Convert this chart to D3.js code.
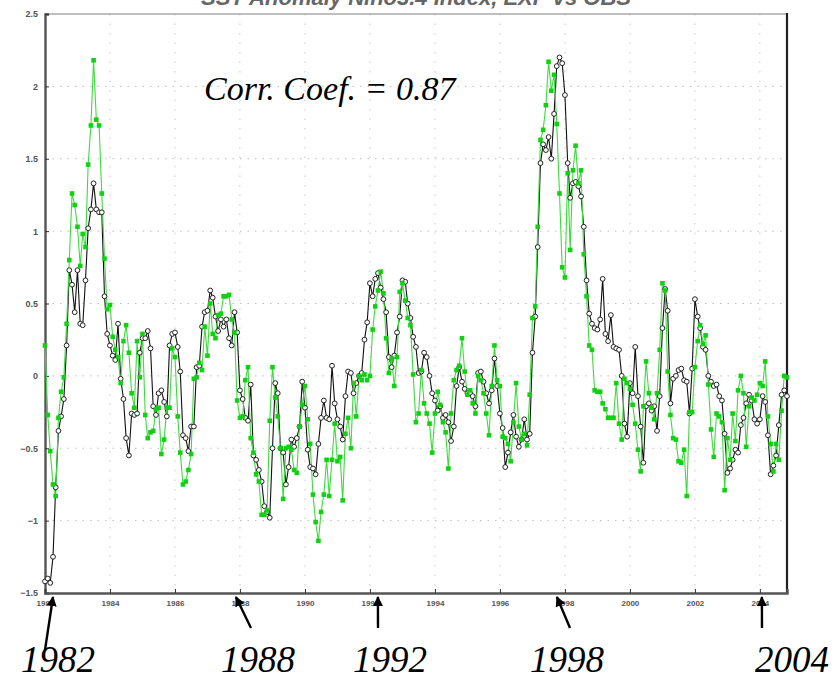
<!DOCTYPE html>
<html>
<head>
<meta charset="utf-8">
<script src="https://cdn.jsdelivr.net/npm/d3@7"></script>
<style>
  html, body { margin: 0; padding: 0; background: #fff; }
  svg { display: block; }
</style>
</head>
<body>
<svg id="chart" width="835" height="679"></svg>
<script>
// Monthly anomaly series, January 1982 onward
const observed = [
  -1.42, -1.40, -1.43, -1.25, -0.77, -0.38, -0.28, -0.16, 0.21, 0.73,
  0.63, 0.44, 0.73, 0.36, 0.35, 0.66, 1.02, 1.15, 1.33, 1.15,
  1.13, 1.13, 0.55, 0.29, 0.21, 0.14, 0.11, 0.36, -0.02, -0.16,
  -0.43, -0.55, -0.26, -0.27, -0.26, 0.16, 0.26, 0.26, 0.31, 0.19,
  -0.21, -0.27, -0.12, -0.10, -0.18, -0.28, 0.21, 0.29, 0.30, 0.20,
  0.03, -0.41, -0.43, -0.52, -0.35, -0.35, 0.06, 0.07, 0.34, 0.44,
  0.45, 0.59, 0.54, 0.41, 0.31, 0.39, 0.34, 0.39, 0.26, 0.21,
  0.44, 0.30, -0.10, -0.16, -0.29, -0.31, -0.06, -0.55, -0.58, -0.65,
  -0.73, -0.90, -0.94, -0.98, -0.50, -0.05, -0.12, -0.50, -0.53, -0.75,
  -0.63,
  -0.44, -0.49, -0.43, -0.35, -0.04, -0.22, -0.51, -0.63, -0.64, -0.68,
  -0.47, -0.29, -0.17, -0.29, -0.30, 0.07, -0.19, -0.30, -0.35, -0.44,
  -0.14, 0.03, 0.02, -0.12, -0.05, 0.00, 0.02, 0.25, 0.37, 0.64,
  0.55, 0.67, 0.71, 0.61, 0.53, 0.44, 0.13, 0.06, 0.14, 0.30,
  0.41, 0.66, 0.65, 0.50, 0.40, 0.27, 0.20, 0.02, 0.03, 0.16,
  0.13, 0.00, -0.12, -0.17, -0.24, -0.21, -0.29, -0.27, -0.32, -0.45,
  -0.35, -0.07, 0.06, -0.04, -0.09, -0.12, -0.12, -0.14, -0.21, 0.02,
  0.03, -0.04, -0.12, -0.19, -0.10, 0.12, -0.07, -0.26, -0.36, -0.63,
  -0.53, -0.39, -0.27, -0.42, -0.49, -0.44, -0.30, -0.44, -0.40, 0.16,
  0.41,
  0.89, 1.47, 1.60, 1.56, 1.65, 1.50, 1.81, 2.14, 2.20, 2.16,
  1.94, 1.47, 1.23, 1.33, 1.34, 1.31, 1.24, 1.03, 0.66, 0.43,
  0.36, 0.33, 0.32, 0.39, 0.67, 0.29, 0.24,
  0.42, 0.20, 0.19, 0.18, 0.00, -0.33, -0.42, -0.05, -0.12, 0.20,
  -0.14, -0.35, -0.60, -0.21, -0.19, -0.24, -0.21, -0.38, -0.14, 0.33,
  0.60, 0.45, -0.19, -0.02, 0.00, 0.04, 0.05, -0.03, -0.04, -0.26,
  0.05, 0.53, 0.41, 0.33, 0.20, 0.18, 0.00, -0.04, -0.07, -0.06,
  -0.14, -0.17, -0.40, -0.67, -0.64, -0.58, -0.51, -0.53, -0.34, -0.29,
  -0.19, -0.13, -0.17, -0.30, -0.33, -0.30, -0.14, -0.18, -0.41, -0.68,
  -0.62, -0.55, -0.34, -0.13, -0.10, -0.14
];

const simulated = [
  0.21, -0.27, -0.52, -0.75, -0.83, -0.29, -0.11, -0.01, 0.36, 0.80,
  1.26, 1.18, 1.03, 0.76, 0.98, 0.89, 1.46, 1.73, 2.18, 1.77,
  1.73, 1.26, 0.81, 0.46, 0.49, 0.27, 0.18, 0.13, -0.05, 0.24,
  0.35, 0.16, -0.12, -0.22, 0.24, -0.01, 0.29, -0.27, -0.43, -0.39,
  -0.38, -0.23, -0.22, -0.54, -0.44, -0.22, -0.22, 0.19, 0.13, -0.28,
  -0.53, -0.75, -0.73, -0.65, -0.54, -0.02, -0.01, 0.09, 0.04, 0.34,
  0.14, 0.50, 0.29, 0.26, 0.42, 0.43, 0.55, 0.55, 0.56, 0.39,
  0.30, -0.17, -0.29, -0.28, -0.03, 0.06, -0.43, -0.53, -0.68, -0.73,
  -0.96, -0.96, -0.93, -0.31, 0.06, -0.15, -0.28, -0.50, -0.85, -0.50,
  -0.49,
  -0.51, -0.65, -0.67, -0.35, -0.20, -0.07, -0.30, -0.47, -0.82, -1.01,
  -1.14, -0.94, -0.82, -0.58, -0.83, -0.58, -0.33, -0.59, -0.56, -0.86,
  -0.40, -0.29, -0.50, -0.05, -0.28, 0.00, -0.03, 0.01, -0.03, 0.00,
  0.32, 0.48, 0.59, 0.72, 0.57, 0.26, 0.02, 0.12, -0.07, 0.13,
  0.58, 0.64, 0.52, 0.40, 0.35, 0.01, -0.32, -0.26, 0.04, -0.19,
  -0.26, -0.33, -0.53, -0.26, -0.11, -0.20, -0.32, -0.39, -0.64, -0.26,
  -0.03, 0.04, 0.07, 0.26, 0.03, -0.13, -0.10, -0.19, -0.26, 0.00,
  -0.03, -0.12, -0.26, -0.41, -0.07, 0.21, -0.03, -0.07, -0.42, -0.43,
  -0.47, -0.59, -0.32, -0.05, -0.35, -0.44, -0.40, -0.48, -0.13, 0.40,
  0.48,
  1.03, 1.63, 1.70, 1.87, 2.17, 1.97, 2.08, 1.74, 1.26, 0.75,
  0.68, 1.40, 0.87, 1.42, 1.59, 1.33, 1.42, 0.84, 0.55, 0.21,
  0.18, -0.10, -0.11, -0.11, -0.19, -0.23, -0.29,
  -0.29, -0.29, -0.05, -0.33, -0.44, -0.02, -0.05, -0.09, -0.20, -0.33,
  -0.51, -0.66, -0.21, 0.10, -0.12, -0.22, -0.30, -0.12, 0.18, 0.64,
  0.59, 0.03, -0.27, -0.43, -0.44, -0.59, -0.60, -0.51, -0.83, -0.25,
  -0.25, 0.06, 0.24, 0.35, 0.22, 0.28, -0.06, -0.37, -0.56, -0.26,
  -0.28, -0.32, -0.79, -0.43, -0.58, -0.26, -0.45, -0.10, 0.00, -0.12,
  -0.49, -0.21, -0.15, -0.17, -0.13, -0.05, -0.07, 0.10, -0.28, -0.47,
  -0.66, -0.47, -0.58, -0.24, 0.00, -0.01
];

const yTickValues = [-1.5, -1, -0.5, 0, 0.5, 1, 1.5, 2, 2.5];
const yearTicks = [1982, 1984, 1986, 1988, 1990, 1992, 1994, 1996, 1998, 2000, 2002, 2004];
const calloutYears = [1982, 1988, 1992, 1998, 2004];
const corrLabel = "Corr. Coef. = 0.87";
const titleText = "SST Anomaly Nino3.4 Index, EXP vs OBS";

// ---- layout ----
const plot = { left: 45, right: 787, top: 14, bottom: 593 };
const svg = d3.select("#chart");

const monthDate = i => new Date(1982, i, 1);
const x = d3.scaleTime()
  .domain([monthDate(0), monthDate(observed.length - 1)])
  .range([plot.left, plot.right]);
const y = d3.scaleLinear().domain([-1.5, 2.5]).range([plot.bottom, plot.top]);

// Title (sits partly above the page edge)
svg.append("text")
  .attr("x", 416).attr("y", 5)
  .attr("text-anchor", "middle")
  .attr("font-family", "Liberation Sans, Arial, sans-serif")
  .attr("font-weight", "bold")
  .attr("font-style", "italic")
  .attr("font-size", 22)
  .attr("fill", "#666")
  .text(titleText);

// Dotted grid
const grid = svg.append("g");
grid.selectAll("line.h")
  .data(yTickValues.filter(v => v > -1.5 && v < 2.5))
  .join("line")
  .attr("x1", plot.left).attr("x2", plot.right)
  .attr("y1", d => y(d)).attr("y2", d => y(d))
  .attr("stroke", "#bdbdbd").attr("stroke-width", 1)
  .attr("stroke-dasharray", "1.5,6");
grid.selectAll("line.v")
  .data(yearTicks.slice(1))
  .join("line")
  .attr("x1", d => x(new Date(d, 0, 1))).attr("x2", d => x(new Date(d, 0, 1)))
  .attr("y1", plot.top).attr("y2", plot.bottom)
  .attr("stroke", "#c8c8c8").attr("stroke-width", 1)
  .attr("stroke-dasharray", "1.5,8");

// Frame
svg.append("line").attr("x1", plot.left).attr("x2", plot.right)
  .attr("y1", plot.top).attr("y2", plot.top)
  .attr("stroke", "#aaa").attr("stroke-width", 1.5);
svg.append("line").attr("x1", plot.right).attr("x2", plot.right)
  .attr("y1", plot.top - 1).attr("y2", plot.bottom)
  .attr("stroke", "#222").attr("stroke-width", 2.2);

// Axes
const yAxis = d3.axisLeft(y).tickValues(yTickValues).tickSize(-4).tickPadding(7)
  .tickFormat(d => d3.format("")(d));
const gy = svg.append("g").attr("transform", `translate(${plot.left},0)`).call(yAxis);
gy.select(".domain").attr("stroke", "#555").attr("stroke-width", 2.4);
gy.selectAll(".tick line").attr("stroke", "#333");
gy.selectAll(".tick text")
  .attr("font-family", "Liberation Sans, Arial, sans-serif")
  .attr("font-size", 9).attr("font-weight", "bold").attr("fill", "#555")
  .text(d => d < 0 ? "\u2212" + Math.abs(d) : d);

const xAxis = d3.axisBottom(x)
  .tickValues(yearTicks.map(yr => new Date(yr, 0, 1)))
  .tickSize(-4).tickPadding(7)
  .tickFormat(d3.timeFormat("%Y"));
const gx = svg.append("g").attr("transform", `translate(0,${plot.bottom})`).call(xAxis);
gx.select(".domain").attr("stroke", "#555").attr("stroke-width", 2.4);
gx.selectAll(".tick line").attr("stroke", "#333");
gx.selectAll(".tick text")
  .attr("font-family", "Liberation Sans, Arial, sans-serif")
  .attr("font-size", 8).attr("font-weight", "bold").attr("fill", "#555");

// Series
const lineGen = d3.line().x((d, i) => x(monthDate(i))).y(d => y(d));
const series = svg.append("g");

series.append("path").datum(observed)
  .attr("d", lineGen).attr("fill", "none")
  .attr("stroke", "#111").attr("stroke-width", 1.1);
series.append("path").datum(simulated)
  .attr("d", lineGen).attr("fill", "none")
  .attr("stroke", "#3ade3a").attr("stroke-width", 1.1);

series.selectAll("circle.obs").data(observed).join("circle")
  .attr("class", "obs")
  .attr("cx", (d, i) => x(monthDate(i))).attr("cy", d => y(d))
  .attr("r", 2.4).attr("fill", "#fff")
  .attr("stroke", "#222").attr("stroke-width", 1);

series.selectAll("rect.sim").data(simulated).join("rect")
  .attr("class", "sim")
  .attr("x", (d, i) => x(monthDate(i)) - 2.3).attr("y", d => y(d) - 2.3)
  .attr("width", 4.6).attr("height", 4.6)
  .attr("fill", "#12d012");

// Correlation note
svg.append("text")
  .attr("x", 204).attr("y", 100)
  .attr("font-family", "Liberation Serif, 'Times New Roman', serif")
  .attr("font-style", "italic").attr("font-size", 34).attr("fill", "#000")
  .text(corrLabel);

// Year callouts with arrows pointing at the time axis
const calloutLayout = {
  1982: { tx: 58, dx: 8, fromX: 45, fromY: 650 },
  1988: { tx: 258, dx: -4, fromX: 251, fromY: 628 },
  1992: { tx: 390, dx: 8, fromX: 378, fromY: 628 },
  1998: { tx: 567, dx: -8, fromX: 570, fromY: 628 },
  2004: { tx: 792, dx: 2, fromX: 762, fromY: 628 }
};
const defs = svg.append("defs");
defs.append("marker")
  .attr("id", "arrowhead")
  .attr("viewBox", "0 0 10 10").attr("refX", 9).attr("refY", 5)
  .attr("markerWidth", 4.2).attr("markerHeight", 4.2)
  .attr("markerUnits", "strokeWidth")
  .attr("orient", "auto")
  .append("path").attr("d", "M0,0 L10,5 L0,10 Z").attr("fill", "#000");

const callouts = svg.append("g");
calloutYears.forEach(yr => {
  const c = calloutLayout[yr];
  const tipX = x(new Date(yr, 0, 1)) + c.dx;
  callouts.append("line")
    .attr("x1", c.fromX).attr("y1", c.fromY)
    .attr("x2", tipX).attr("y2", plot.bottom + 4)
    .attr("stroke", "#000").attr("stroke-width", 2.4)
    .attr("marker-end", "url(#arrowhead)");
  callouts.append("text")
    .attr("x", c.tx).attr("y", 672)
    .attr("text-anchor", "middle")
    .attr("font-family", "Liberation Serif, 'Times New Roman', serif")
    .attr("font-style", "italic").attr("font-size", 37).attr("fill", "#000")
    .text(yr);
});
</script>
</body>
</html>
